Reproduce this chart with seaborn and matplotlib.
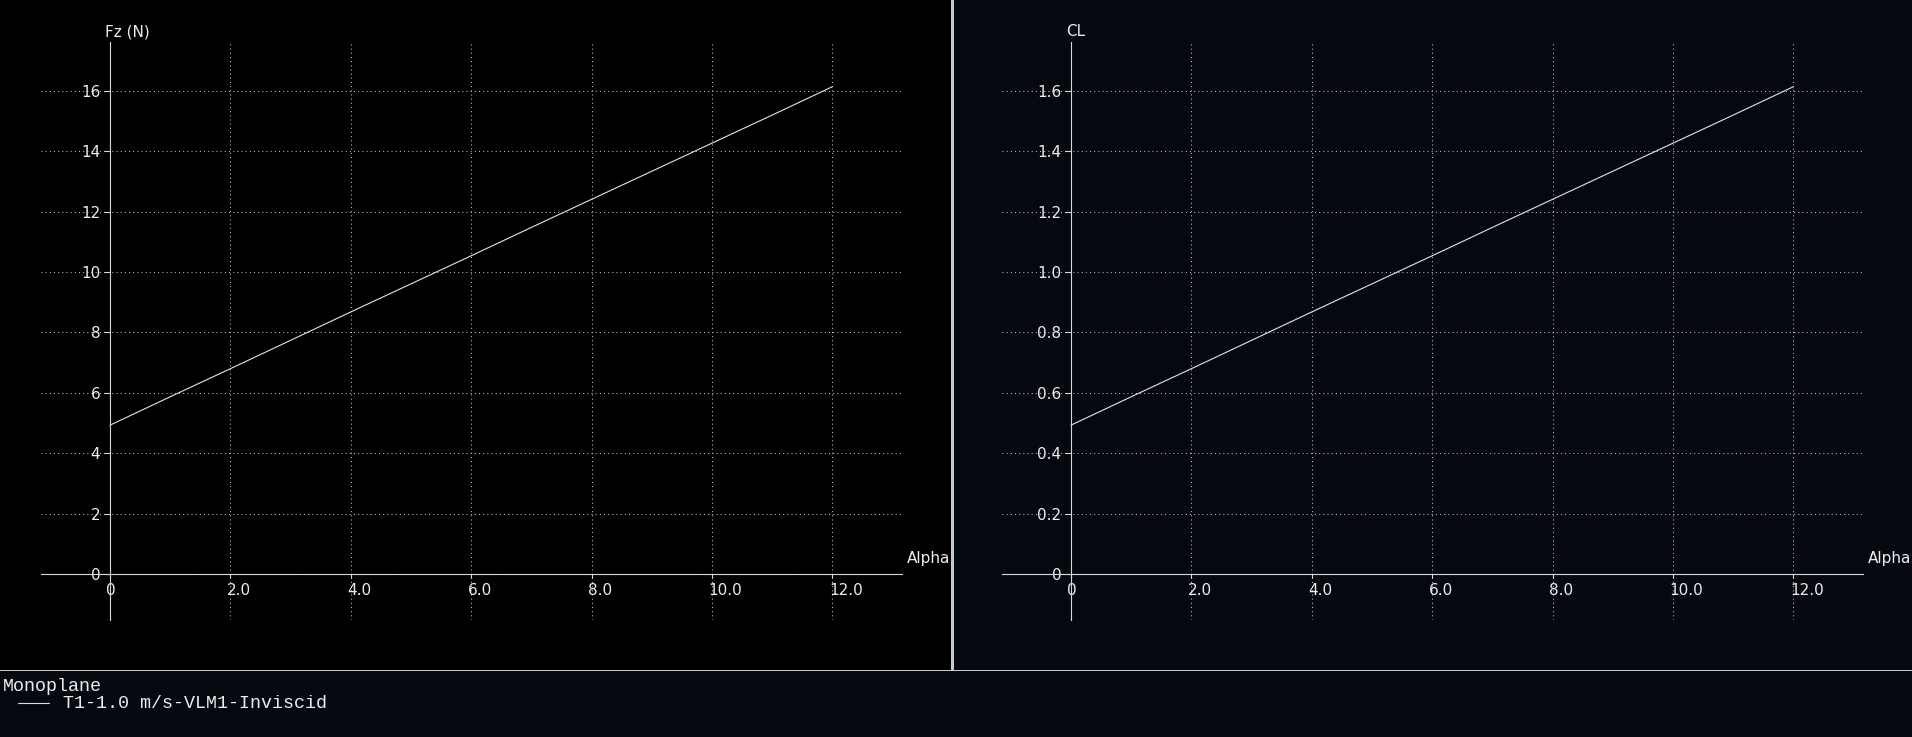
#!/usr/bin/env python3

import pandas as pd
import seaborn as sns
import matplotlib.pyplot as plt
import matplotlib.transforms as mtransforms
from matplotlib.patches import Rectangle

alpha = [0, 1, 2, 3, 4, 5, 6, 7, 8, 9, 10, 11, 12]
fz = [4.93, 5.87, 6.80, 7.74, 8.68, 9.61, 10.54, 11.48, 12.41, 13.34, 14.27, 15.20, 16.14]
cl = [0.493, 0.587, 0.680, 0.774, 0.868, 0.961, 1.054, 1.148, 1.241, 1.334, 1.427, 1.520, 1.614]

x_ticks = [0, 2, 4, 6, 8, 10, 12]
x_labels = ["0", "2.0", "4.0", "6.0", "8.0", "10.0", "12.0"]
fz_ticks = [0, 2, 4, 6, 8, 10, 12, 14, 16]
fz_labels = ["0", "2", "4", "6", "8", "10", "12", "14", "16"]
cl_ticks = [0, 0.2, 0.4, 0.6, 0.8, 1.0, 1.2, 1.4, 1.6]
cl_labels = ["0", "0.2", "0.4", "0.6", "0.8", "1.0", "1.2", "1.4", "1.6"]

legend_title = "Monoplane"
legend_entry = "T1-1.0 m/s-VLM1-Inviscid"

df = pd.DataFrame({"alpha": alpha, "fz": fz, "cl": cl})

sns.set_style("ticks")
plt.rcParams["font.family"] = ["DejaVu Sans"]

navy = "#040910"
fg = "#ececec"
W, H = 1912, 737

fig = plt.figure(figsize=(W / 100, H / 100), dpi=100, facecolor=navy)

# panel backgrounds and separators
fig.patches.append(Rectangle((0, 67 / H), 951 / W, 1 - 67 / H, transform=fig.transFigure,
                             facecolor="black", edgecolor="none", zorder=-1))
fig.patches.append(Rectangle((951 / W, 67 / H), 3 / W, 1 - 67 / H, transform=fig.transFigure,
                             facecolor="#c8c8c8", edgecolor="none", zorder=5))
fig.patches.append(Rectangle((0, 66 / H), 1, 1.5 / H, transform=fig.transFigure,
                             facecolor="#c8c8c8", edgecolor="none", zorder=5))

ax_w = 861 / W
ax_h = 578 / H
ax_b = (H - 620) / H
ax1 = fig.add_axes([41 / W, ax_b, ax_w, ax_h])
ax2 = fig.add_axes([1002 / W, ax_b, ax_w, ax_h])

panels = [
    (ax1, "fz", "Fz (N)", fz_ticks, fz_labels, (-1.523, 17.62)),
    (ax2, "cl", "CL", cl_ticks, cl_labels, (-0.1523, 1.762)),
]

shift = mtransforms.ScaledTranslation(-3.5 / 100, 0, fig.dpi_scale_trans)

for ax, col, ylabel, yt, yl, ylim in panels:
    ax.set_facecolor("none")
    sns.lineplot(data=df, x="alpha", y=col, ax=ax, color="#e4e4e4", linewidth=0.8)
    ax.set_xlim(-1.146, 13.156)
    ax.set_ylim(*ylim)
    ax.set_xlabel("")
    ax.set_ylabel("")

    for side in ["top", "right"]:
        ax.spines[side].set_visible(False)
    for side in ["left", "bottom"]:
        ax.spines[side].set_position(("data", 0))
        ax.spines[side].set_color("#d8d8d8")
        ax.spines[side].set_linewidth(0.8)

    ax.set_xticks(x_ticks)
    ax.set_xticklabels(x_labels)
    ax.set_yticks(yt)
    ax.set_yticklabels(yl)
    ax.tick_params(axis="both", colors="#d8d8d8", labelcolor=fg, labelsize=11, width=0.8)
    ax.tick_params(axis="y", length=4, pad=3)
    ax.tick_params(axis="x", length=3, pad=3.5)
    for lab in ax.get_xticklabels():
        lab.set_horizontalalignment("left")
        lab.set_transform(lab.get_transform() + shift)

    ax.grid(True, color="#bdbdbd", linestyle=(0, (1, 3)), linewidth=0.75)
    ax.set_axisbelow(True)

    ax.annotate(ylabel, xy=(0, 1), xycoords=("data", "axes fraction"),
                xytext=(-5, 10), textcoords="offset pixels",
                ha="left", va="center", color=fg, fontsize=11)
    ax.annotate("Alpha", xy=(1, 0), xycoords=("axes fraction", "data"),
                xytext=(5, 16), textcoords="offset pixels",
                ha="left", va="center", color=fg, fontsize=11)

# legend block at the bottom
fig.text(3 / W, (H - 691) / H, legend_title, family="Liberation Mono", fontsize=13.2,
         color=fg, ha="left", va="baseline")
fig.add_artist(plt.Line2D([18 / W, 49 / W], [(H - 703) / H] * 2, transform=fig.transFigure,
                          color="#dcdcdc", linewidth=0.8))
fig.text(63 / W, (H - 708) / H, legend_entry, family="Liberation Mono", fontsize=13.2,
         color=fg, ha="left", va="baseline")

plt.savefig("out.png", dpi=100, facecolor=fig.get_facecolor())
